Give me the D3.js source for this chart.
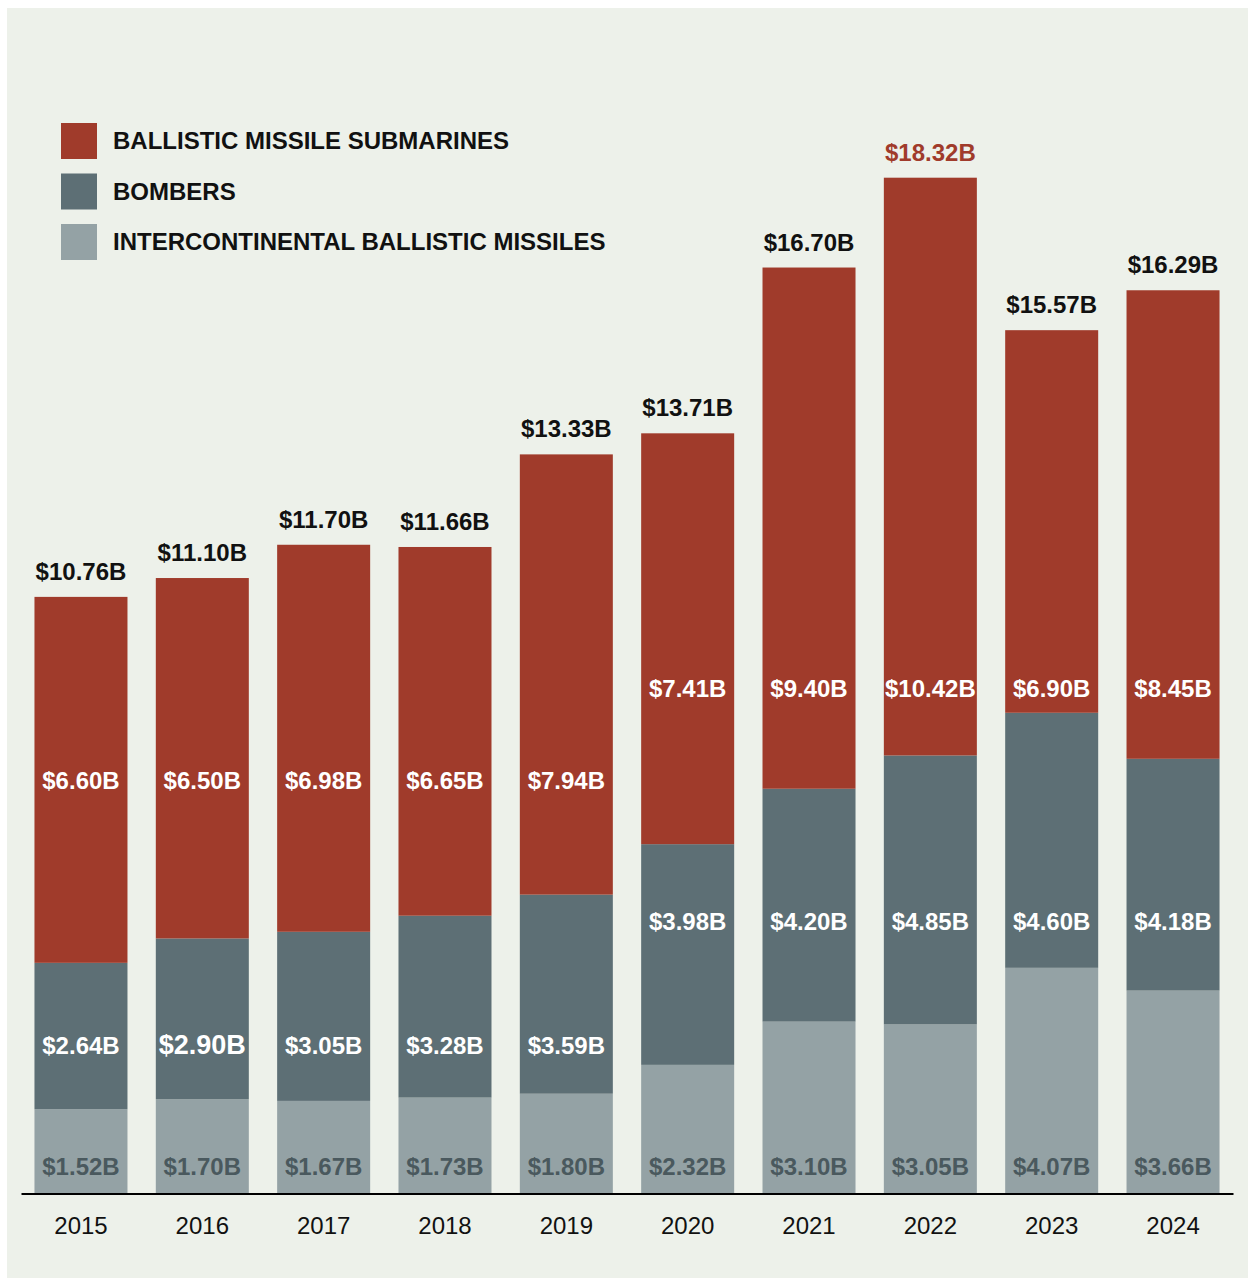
<!DOCTYPE html>
<html>
<head>
<meta charset="utf-8">
<script src="https://cdn.jsdelivr.net/npm/d3@7"></script>
<style>
  html, body { margin: 0; padding: 0; background: #ffffff; }
  svg { display: block; font-family: "Liberation Sans", Arial, Helvetica, sans-serif; }
</style>
</head>
<body>
<svg id="chart" width="1250" height="1281"></svg>
<script>
// Nuclear triad spending by fiscal year, in billions of dollars
const years = ["2015", "2016", "2017", "2018", "2019", "2020", "2021", "2022", "2023", "2024"];
const icbm = [1.52, 1.70, 1.67, 1.73, 1.80, 2.32, 3.10, 3.05, 4.07, 3.66];
const bombers = [2.64, 2.90, 3.05, 3.28, 3.59, 3.98, 4.20, 4.85, 4.60, 4.18];
const submarines = [6.60, 6.50, 6.98, 6.65, 7.94, 7.41, 9.40, 10.42, 6.90, 8.45];
const totals = [10.76, 11.10, 11.70, 11.66, 13.33, 13.71, 16.70, 18.32, 15.57, 16.29];
const seriesNames = ["INTERCONTINENTAL BALLISTIC MISSILES", "BOMBERS", "BALLISTIC MISSILE SUBMARINES"];
const legendOrder = ["BALLISTIC MISSILE SUBMARINES", "BOMBERS", "INTERCONTINENTAL BALLISTIC MISSILES"];

const colors = {
  "BALLISTIC MISSILE SUBMARINES": "#a03b2b",
  "BOMBERS": "#5d6f75",
  "INTERCONTINENTAL BALLISTIC MISSILES": "#94a2a5"
};
const labelColors = {
  "BALLISTIC MISSILE SUBMARINES": "#ffffff",
  "BOMBERS": "#ffffff",
  "INTERCONTINENTAL BALLISTIC MISSILES": "#4a595e"
};

const fmt = v => "$" + v.toFixed(2) + "B";

const svg = d3.select("#chart");

// panel background
svg.append("rect")
  .attr("x", 7).attr("y", 8)
  .attr("width", 1241).attr("height", 1270)
  .attr("fill", "#edf1ea");

const baseY = 1193.5;
const x = d3.scaleBand()
  .domain(years)
  .range([21, 1233])
  .paddingInner(0.2335)
  .paddingOuter(0.111);

const y = d3.scaleLinear()
  .domain([0, 18.32])
  .range([baseY, 177.7]);

const rows = years.map((yr, i) => ({
  year: yr,
  "INTERCONTINENTAL BALLISTIC MISSILES": icbm[i],
  "BOMBERS": bombers[i],
  "BALLISTIC MISSILE SUBMARINES": submarines[i]
}));

const stack = d3.stack().keys(seriesNames);
const layers = stack(rows);

const g = svg.append("g");

g.selectAll("g.layer")
  .data(layers)
  .join("g")
  .attr("class", "layer")
  .attr("fill", d => colors[d.key])
  .selectAll("rect")
  .data(d => d)
  .join("rect")
  .attr("x", d => x(d.data.year))
  .attr("width", x.bandwidth())
  .attr("y", d => y(d[1]))
  .attr("height", d => y(d[0]) - y(d[1]));

// segment value labels sit at fixed levels, higher for the later years
const labelLevels = {
  "INTERCONTINENTAL BALLISTIC MISSILES": [0.33, 0.33],
  "BOMBERS": [2.52, 4.75],
  "BALLISTIC MISSILE SUBMARINES": [7.3, 8.95]
};

layers.forEach(layer => {
  g.append("g")
    .selectAll("text")
    .data(layer)
    .join("text")
    .attr("x", d => x(d.data.year) + x.bandwidth() / 2)
    .attr("y", (d, i) => y(labelLevels[layer.key][i < 5 ? 0 : 1]))
    .attr("text-anchor", "middle")
    .attr("font-weight", "bold")
    .attr("font-size", (d, i) => (layer.key === "BOMBERS" && i === 1) ? 27 : 24)
    .attr("fill", labelColors[layer.key])
    .text(d => fmt(d.data[layer.key]));
});

// totals above bars
g.append("g")
  .selectAll("text")
  .data(totals)
  .join("text")
  .attr("x", (d, i) => x(years[i]) + x.bandwidth() / 2)
  .attr("y", d => y(d) - 17)
  .attr("text-anchor", "middle")
  .attr("font-weight", "bold")
  .attr("font-size", 24)
  .attr("fill", d => d === d3.max(totals) ? "#a03b2b" : "#111111")
  .text(d => fmt(d));

// baseline axis with year labels
const axis = svg.append("g")
  .attr("transform", `translate(0,${baseY})`)
  .call(d3.axisBottom(x).tickSize(0).tickPadding(0));
axis.select(".domain").attr("stroke", "#000").attr("stroke-width", 2.2);
axis.selectAll("text")
  .attr("font-family", "Liberation Sans, Arial, sans-serif")
  .attr("font-size", 24)
  .attr("fill", "#111")
  .attr("dy", 0)
  .attr("y", 40);

// legend
const legend = svg.append("g").attr("transform", "translate(61,123)");
const items = legend.selectAll("g")
  .data(legendOrder)
  .join("g")
  .attr("transform", (d, i) => `translate(0,${i * 50.5})`);
items.append("rect")
  .attr("width", 36).attr("height", 36)
  .attr("fill", d => colors[d]);
items.append("text")
  .attr("x", 52).attr("y", 26)
  .attr("font-weight", "bold")
  .attr("font-size", 24)
  .attr("fill", "#111")
  .text(d => d);
</script>
</body>
</html>
